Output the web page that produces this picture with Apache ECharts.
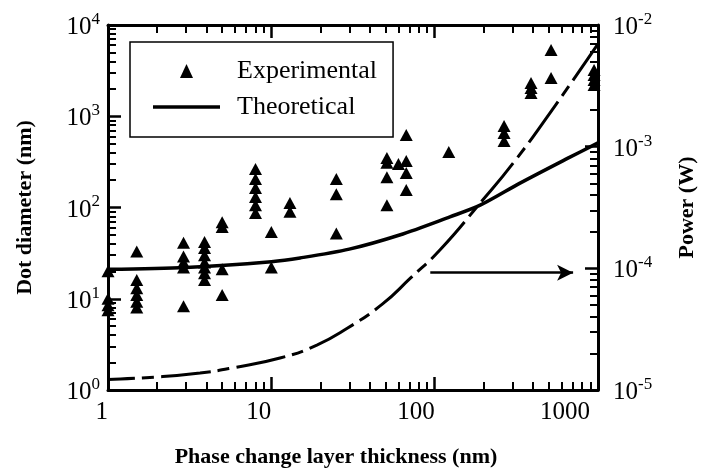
<!DOCTYPE html>
<html>
<head>
<meta charset="utf-8">
<script src="https://cdn.jsdelivr.net/npm/echarts@6/dist/echarts.min.js"></script>
<style>
  html, body { margin: 0; padding: 0; background: #fff; }
  #chart { width: 716px; height: 474px; }
</style>
</head>
<body>
<div id="chart"></div>
<script>
// experimental points (thickness nm, dot diameter nm)
var expThickness = [
  1, 1, 1, 1,
  1.5, 1.5, 1.5, 1.5, 1.5, 1.5,
  2.9, 2.9, 2.9, 2.9, 2.9,
  3.9, 3.9, 3.9, 3.9, 3.9, 3.9, 3.9,
  5, 5, 5, 5,
  8, 8, 8, 8, 8, 8,
  10, 10,
  13, 13,
  25, 25, 25,
  51, 51, 51, 51,
  60,
  67, 67, 67, 67,
  122,
  266, 266, 266,
  389, 389, 389,
  516, 516,
  946, 946, 946, 946
]
var expDiameter = [
  20, 10, 8.5, 7.5,
  33, 16, 13, 11, 9.3, 8,
  41, 29, 25, 22, 8.3,
  42, 36, 30, 25, 22, 19, 16,
  69, 61, 21, 11,
  264, 205, 164, 130, 106, 87,
  54, 22,
  112, 90,
  205, 140, 52,
  349, 310, 215, 106,
  300,
  623, 324, 239, 156,
  405,
  782, 655, 535,
  2313, 2040, 1800,
  5320, 2630,
  3210, 2830, 2500, 2200
]

// theoretical dot diameter (left axis)
var theoThickness = [1, 3, 10, 15, 30, 61, 124, 190, 333, 650, 1000]
var theoDiameter = [21, 22, 25.5, 28, 35, 50, 79, 106, 185, 345, 510]

// theoretical power (right axis)
var powerThickness = [1, 2, 3.66, 5.8, 11.3, 19, 29, 48, 71, 108, 190, 303, 523, 1000]
var powerValue = [1.22e-5, 1.28e-5, 1.38e-5, 1.52e-5, 1.83e-5, 2.34e-5, 3.2e-5, 5.1e-5, 8.3e-5, 1.42e-4, 3.44e-4, 7.35e-4, 2.0e-3, 7.0e-3]

// arrow pointing at the power axis
var arrowThickness = [94, 704]
var arrowPower = 9.2e-5

var xMinor = [2, 3, 4, 5, 6, 7, 8, 9, 20, 30, 40, 50, 60, 70, 80, 90, 200, 300, 400, 500, 600, 700, 800, 900]
var leftMinor = xMinor.concat([2000, 3000, 4000, 5000, 6000, 7000, 8000, 9000])
var rightMinor = [2e-5, 3e-5, 4e-5, 5e-5, 6e-5, 7e-5, 8e-5, 9e-5, 2e-4, 3e-4, 4e-4, 5e-4, 6e-4, 7e-4, 8e-4, 9e-4, 2e-3, 3e-3, 4e-3, 5e-3, 6e-3, 7e-3, 8e-3, 9e-3]

function zip(a, b) {
  return a.map(function(v, i) { return [v, b[i]] })
}

var serif = 'Liberation Serif'
var powRich = {
  b: { fontFamily: serif, fontSize: 25, color: '#000', verticalAlign: 'bottom', lineHeight: 30 },
  e: { fontFamily: serif, fontSize: 17, color: '#000', verticalAlign: 'bottom', lineHeight: 30, padding: [0, 0, 12, 0] }
}
function powLabel(v) {
  return '{b|10}{e|' + Math.round(Math.log10(v)) + '}'
}

var line3 = { show: true, lineStyle: { color: '#000', width: 3 } }
var noLine = { show: false }
var majorTick = { show: true, inside: true, length: 13, lineStyle: { color: '#000', width: 2.5 } }
function minorTick(vals) {
  return { show: true, inside: true, length: 8, customValues: vals, lineStyle: { color: '#000', width: 2 } }
}

function xAx(pos, major) {
  return {
    type: 'log', logBase: 10, min: 1, max: 1000, position: pos,
    axisLine: major ? line3 : noLine,
    axisTick: major ? majorTick : minorTick(xMinor),
    splitLine: { show: false },
    axisLabel: { show: false }
  }
}
function yAx(pos, min, max, major, minors) {
  return {
    type: 'log', logBase: 10, min: min, max: max, position: pos,
    axisLine: major ? line3 : noLine,
    axisTick: major ? majorTick : minorTick(minors),
    splitLine: { show: false },
    axisLabel: { show: false }
  }
}

var xBottom = xAx('bottom', true)
xBottom.axisLabel = {
  show: true, margin: 10, align: 'right',
  formatter: function(v) {
    var n = Math.round(v)
    return n === 1000 ? '{k|' + n + '}' : '{n|' + n + '}'
  },
  rich: {
    n: { fontFamily: serif, fontSize: 25, color: '#000' },
    k: { fontFamily: serif, fontSize: 25, color: '#000', padding: [0, 8, 0, 0] }
  }
}
xBottom.name = 'Phase change layer thickness (nm)'
xBottom.nameLocation = 'middle'
xBottom.nameGap = 56
xBottom.nameTextStyle = { fontFamily: serif, fontSize: 22, fontWeight: 'bold', color: '#000', padding: [0, 34, 0, 0] }

var yLeft = yAx('left', 1, 10000, true)
yLeft.axisLabel = { show: true, margin: 8, formatter: powLabel, rich: powRich }
yLeft.name = 'Dot diameter (nm)'
yLeft.nameLocation = 'middle'
yLeft.nameRotate = 90
yLeft.nameGap = 72
yLeft.nameTextStyle = { fontFamily: serif, fontSize: 22, fontWeight: 'bold', color: '#000' }

var yRight = yAx('right', 1e-5, 1e-2, true)
yRight.axisLabel = { show: true, margin: 15, formatter: powLabel, rich: powRich }
yRight.name = 'Power (W)'
yRight.nameLocation = 'middle'
yRight.nameRotate = 90
yRight.nameGap = 78
yRight.nameTextStyle = { fontFamily: serif, fontSize: 22, fontWeight: 'bold', color: '#000' }

var option = {
  backgroundColor: '#fff',
  animation: false,
  grid: { left: 108, right: 118, top: 25, bottom: 84, containLabel: false, outerBoundsMode: 'none' },
  legend: {
    data: [
      // invisible move-to points keep the triangle small inside the 67x14 icon box
      { name: 'Experimental', icon: 'path://M0,0M67,14M27,14L33.5,0L40,14Z' },
      { name: 'Theoretical', icon: 'path://M0,5.25L67,5.25L67,8.75L0,8.75ZM0,0M67,14' }
    ],
    orient: 'vertical',
    left: 130,
    top: 42,
    padding: [14, 16, 15, 23],
    itemWidth: 67,
    itemHeight: 14,
    itemGap: 6,
    borderColor: '#000',
    borderWidth: 1.5,
    borderRadius: 0,
    itemStyle: { color: '#000', borderWidth: 0 },
    textStyle: { fontFamily: serif, fontSize: 26, color: '#000', lineHeight: 30, padding: [0, 0, 0, 12] }
  },
  xAxis: [xBottom, xAx('bottom', false), xAx('top', true), xAx('top', false)],
  yAxis: [yLeft, yAx('left', 1, 10000, false, leftMinor), yRight, yAx('right', 1e-5, 1e-2, false, rightMinor)],
  series: [
    {
      name: 'Experimental',
      type: 'scatter',
      symbol: 'triangle',
      symbolSize: [13, 12],
      itemStyle: { color: '#000', opacity: 1 },
      data: zip(expThickness, expDiameter),
      z: 5
    },
    {
      name: 'Theoretical',
      type: 'line',
      smooth: 0.3,
      symbol: 'none',
      lineStyle: { color: '#000', width: 3.5 },
      itemStyle: { color: '#000' },
      data: zip(theoThickness, theoDiameter)
    },
    {
      name: 'Power',
      type: 'line',
      yAxisIndex: 2,
      smooth: 0.5,
      symbol: 'none',
      lineStyle: { color: '#000', width: 3, type: [50, 7, 12, 7], dashOffset: 23 },
      data: zip(powerThickness, powerValue),
      markLine: {
        silent: true,
        symbol: ['none', 'arrow'],
        symbolSize: [12, 16],
        label: { show: false },
        lineStyle: { color: '#000', width: 2.5, type: 'solid' },
        data: [[
          { coord: [arrowThickness[0], arrowPower] },
          { coord: [arrowThickness[1], arrowPower] }
        ]]
      }
    }
  ]
}

var myChart = echarts.init(document.getElementById('chart'))
myChart.setOption(option)
</script>
</body>
</html>
